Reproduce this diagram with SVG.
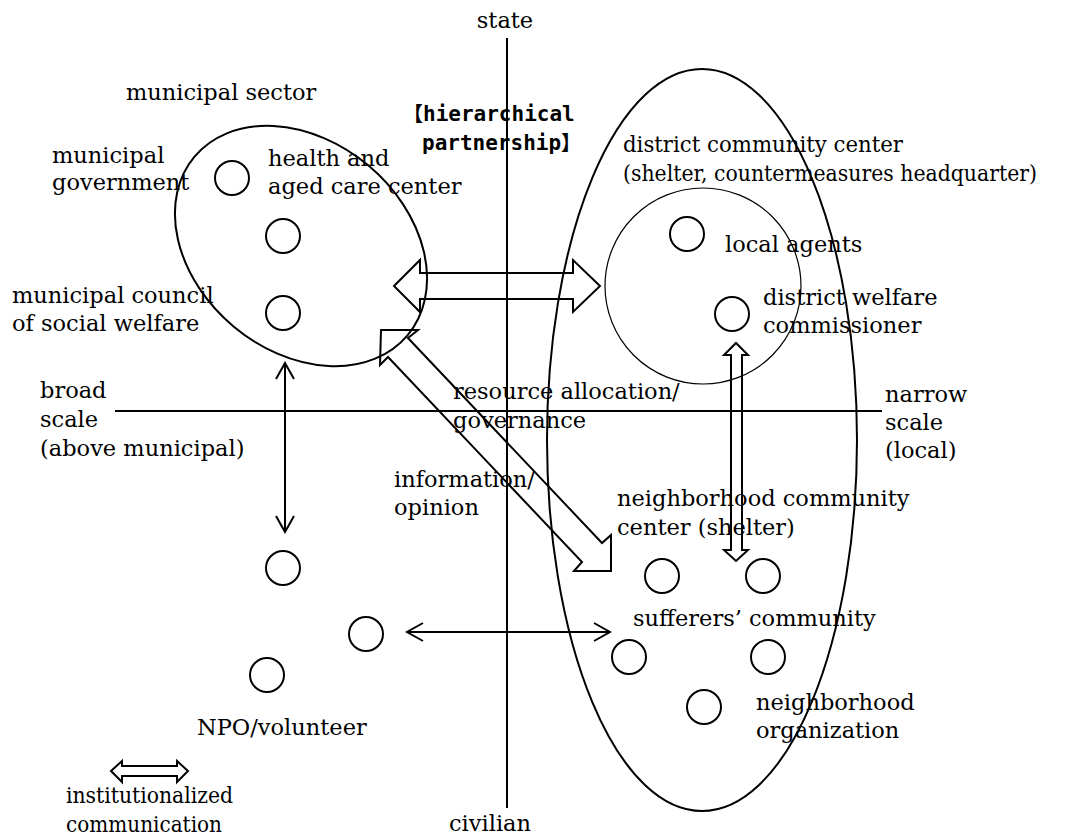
<svg xmlns="http://www.w3.org/2000/svg" width="1077" height="835" viewBox="0 0 1077 835">
<style>
.t{font-family:"DejaVu Serif","Liberation Serif",serif;font-size:22.5px;fill:#000}
.g{font-family:"DejaVu Sans Mono","Noto Sans CJK JP",monospace;font-size:21px;font-weight:bold;fill:#000}
.br{font-family:"Noto Sans CJK JP",sans-serif;font-size:20px;font-weight:bold}
.ax{stroke:#000;stroke-width:2;fill:none}
.ln{stroke:#000;stroke-width:2;fill:none}
.blk{stroke:#000;stroke-width:2;fill:none;stroke-linejoin:miter}
</style>
<defs>
<marker id="chev" markerUnits="userSpaceOnUse" markerWidth="20" markerHeight="22" viewBox="-18 -11 20 22" refX="0" refY="0" orient="auto-start-reverse">
<path d="M-16,-9 L0,0 L-16,9" fill="none" stroke="#000" stroke-width="2"/>
</marker>
</defs>
<rect width="1077" height="835" fill="#fff"/>

<g id="axes">
<line class="ax" x1="507" y1="38" x2="507" y2="808"/>
<line class="ax" x1="115" y1="411" x2="882" y2="411"/>
<text class="t" x="505" y="28" text-anchor="middle">state</text>
<text class="t" x="490" y="831" text-anchor="middle">civilian</text>
<text class="t"><tspan x="40" y="398">broad</tspan><tspan x="40" y="427">scale</tspan><tspan x="40" y="456">(above municipal)</tspan></text>
<text class="t"><tspan x="885" y="402">narrow</tspan><tspan x="885" y="430">scale</tspan><tspan x="885" y="458">(local)</tspan></text>
</g>

<g id="connectors">
<polygon class="blk" points="394,286 420,260 420,273 573,273 573,260 600,286 573,312 573,299 420,299 420,312"/>
<polygon class="blk" points="381,330 418,330 408,338 602,543 611,535 611,571 574,571 582,562 388,357 380,365"/>
<polygon class="blk" points="736,343 748,355 742,355 742,550 748,550 736,561 724,550 731,550 731,355 724,355"/>
<line class="ln" x1="285" y1="363" x2="285" y2="532" marker-start="url(#chev)" marker-end="url(#chev)"/>
<line class="ln" x1="407" y1="632" x2="610" y2="632" marker-start="url(#chev)" marker-end="url(#chev)"/>
</g>

<g id="municipal-sector">
<ellipse class="ln" cx="301" cy="246" rx="139" ry="105" transform="rotate(40 301 246)"/>
<text class="t" x="126" y="100">municipal sector</text>
</g>
<g id="municipal-government">
<circle class="ln" cx="232" cy="178" r="17"/>
<text class="t"><tspan x="52" y="163">municipal</tspan><tspan x="52" y="190">government</tspan></text>
</g>
<g id="health-aged-care">
<circle class="ln" cx="283" cy="236" r="17"/>
<text class="t"><tspan x="268" y="166">health and</tspan><tspan x="268" y="194">aged care center</tspan></text>
</g>
<g id="municipal-council">
<circle class="ln" cx="283" cy="313" r="17"/>
<text class="t"><tspan x="12" y="303">municipal council</tspan><tspan x="12" y="331">of social welfare</tspan></text>
</g>

<g id="local-sphere">
<ellipse class="ln" cx="702" cy="440" rx="155" ry="371"/>
<text class="t"><tspan x="623" y="152" textLength="280" lengthAdjust="spacingAndGlyphs">district community center</tspan><tspan x="623" y="181" textLength="414" lengthAdjust="spacingAndGlyphs">(shelter, countermeasures headquarter)</tspan></text>
</g>
<g id="local-agents">
<circle cx="703" cy="286" r="98" fill="none" stroke="#000" stroke-width="1.2"/>
<circle class="ln" cx="687" cy="234" r="17"/>
<text class="t" x="725" y="252">local agents</text>
</g>
<g id="district-welfare-commissioner">
<circle class="ln" cx="732" cy="314" r="17"/>
<text class="t"><tspan x="763" y="305">district welfare</tspan><tspan x="763" y="333">commissioner</tspan></text>
</g>

<g id="neighborhood-center">
<circle class="ln" cx="662" cy="576" r="17"/>
<circle class="ln" cx="763" cy="576" r="17"/>
<text class="t"><tspan x="617" y="506">neighborhood community</tspan><tspan x="617" y="535">center (shelter)</tspan></text>
</g>
<g id="sufferers-community">
<circle class="ln" cx="629" cy="657" r="17"/>
<circle class="ln" cx="768" cy="657" r="17"/>
<text class="t" x="633" y="626">sufferers’ community</text>
</g>
<g id="neighborhood-organization">
<circle class="ln" cx="704" cy="707" r="17"/>
<text class="t"><tspan x="756" y="710">neighborhood</tspan><tspan x="756" y="738">organization</tspan></text>
</g>

<g id="npo-volunteer">
<circle class="ln" cx="283" cy="568" r="17"/>
<circle class="ln" cx="366" cy="634" r="17"/>
<circle class="ln" cx="267" cy="675" r="17"/>
<text class="t" x="197" y="735">NPO/volunteer</text>
</g>

<g id="labels">
<text class="g"><tspan x="403" y="121"><tspan class="br">【</tspan>hierarchical</tspan><tspan x="422" y="150">partnership<tspan class="br">】</tspan></tspan></text>
<text class="t"><tspan x="453" y="399">resource allocation/</tspan><tspan x="453" y="428">governance</tspan></text>
<text class="t"><tspan x="394" y="487">information/</tspan><tspan x="394" y="515">opinion</tspan></text>
</g>

<g id="legend">
<polygon class="blk" points="111,771 122,761 122,766 177,766 177,761 188,771 177,782 177,776 122,776 122,782"/>
<text class="t"><tspan x="66" y="803" textLength="167" lengthAdjust="spacingAndGlyphs">institutionalized</tspan><tspan x="66" y="832" textLength="156" lengthAdjust="spacingAndGlyphs">communication</tspan></text>
</g>
</svg>
